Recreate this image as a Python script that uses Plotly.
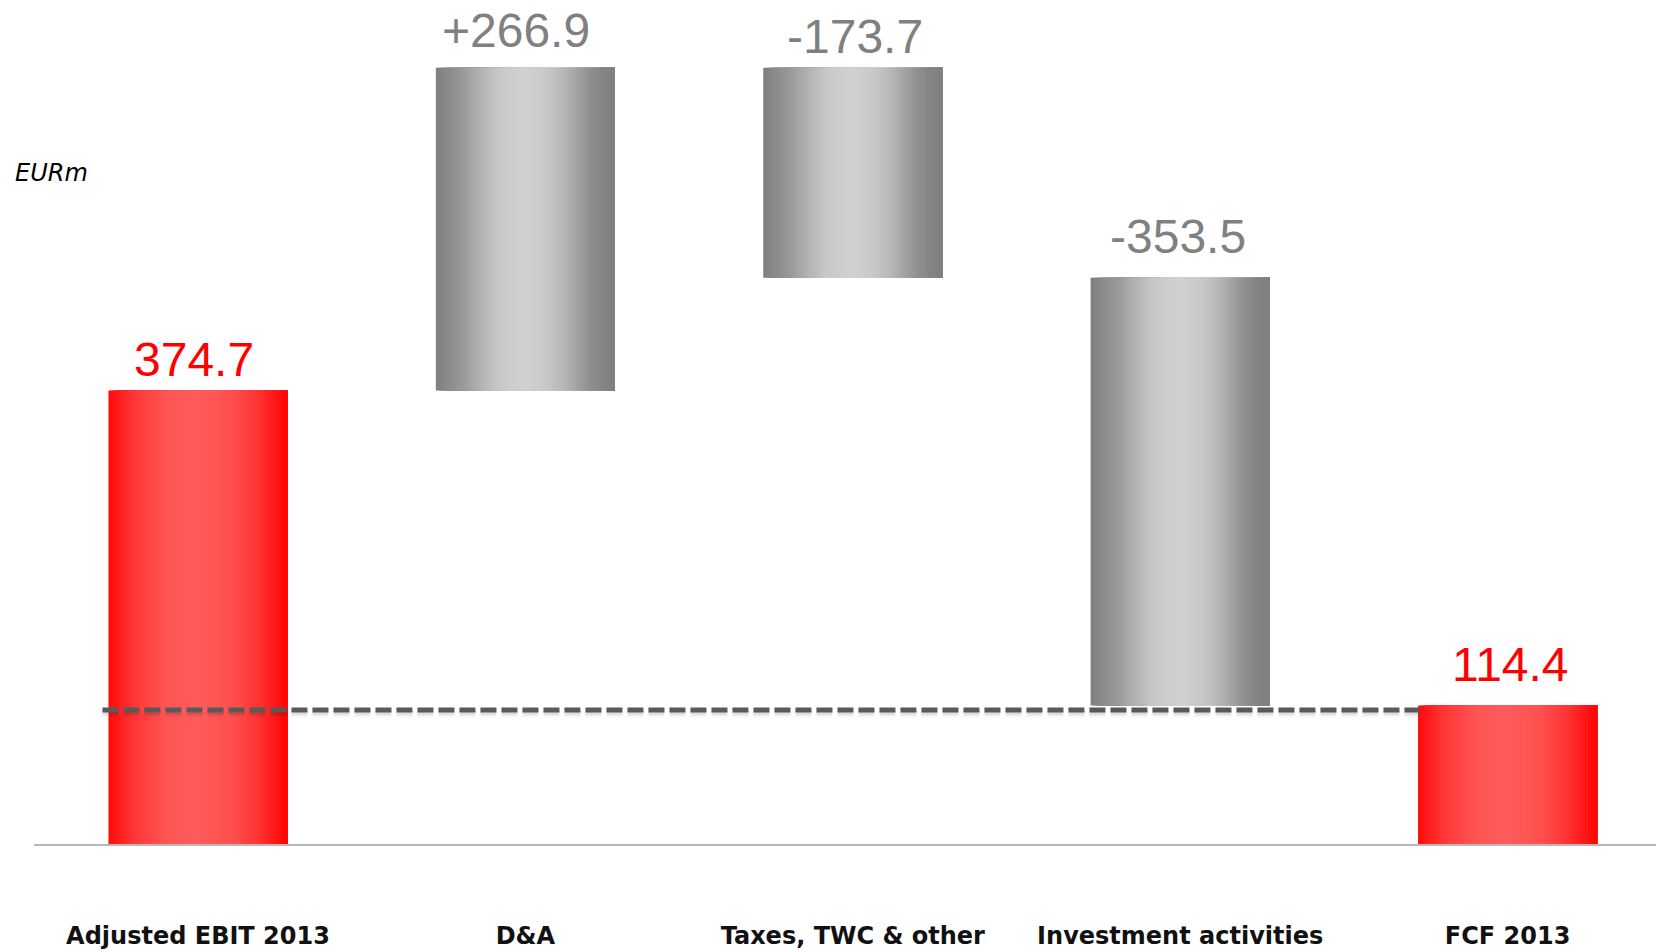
import plotly.graph_objects as go

# ---------------- data ----------------
categories = ["Adjusted EBIT 2013", "D&A", "Taxes, TWC & other", "Investment activities", "FCF 2013"]
values = [374.7, 266.9, -173.7, -353.5, 114.4]
measures = ["total", "relative", "relative", "relative", "total"]
value_labels = ["374.7", "+266.9", "-173.7", "-353.5", "114.4"]
unit_label = "EURm"

# ---------------- style ----------------
W = 0.547                      # bar width (category units)
N_STRIPS = 60
FIG_W, FIG_H = 1656, 952
M_L, M_R, M_T, M_B = 34, 0, 0, 108
X_RANGE = [-0.5009, 4.4533]
Y_RANGE = [0, 697.5]
label_gap_px = [14, 20, 14, 24, 24]
label_xshift_px = [-4, -9, 2, -2, 3]

gray_stops = [(0.0, (0x7f, 0x7f, 0x7f)), (0.15, (0x99, 0x99, 0x99)), (0.24, (0xb0, 0xb0, 0xb0)),
              (0.34, (0xc6, 0xc6, 0xc6)), (0.45, (0xcf, 0xcf, 0xcf)), (0.52, (0xd0, 0xd0, 0xd0)),
              (0.62, (0xc8, 0xc8, 0xc8)), (0.71, (0xb8, 0xb8, 0xb8)), (0.78, (0xa5, 0xa5, 0xa5)),
              (0.86, (0x90, 0x90, 0x90)), (0.93, (0x84, 0x84, 0x84)), (1.0, (0x80, 0x80, 0x80))]
red_stops = [(0.0, (0xff, 0x0a, 0x0a)), (0.14, (0xff, 0x36, 0x36)), (0.33, (0xff, 0x55, 0x55)),
             (0.5, (0xff, 0x5c, 0x5c)), (0.7, (0xff, 0x4e, 0x4e)), (0.85, (0xff, 0x30, 0x30)),
             (1.0, (0xff, 0x02, 0x02))]


def grad(stops, t):
    for (t0, c0), (t1, c1) in zip(stops[:-1], stops[1:]):
        if t0 <= t <= t1:
            f = (t - t0) / (t1 - t0) if t1 > t0 else 0
            c = [round(a + (b - a) * f) for a, b in zip(c0, c1)]
            return "rgb(%d,%d,%d)" % tuple(c)
    return "rgb(%d,%d,%d)" % stops[-1][1]


# ---------------- waterfall geometry from data ----------------
bases, heights, tops = [], [], []
running = 0.0
for v, m in zip(values, measures):
    if m == "total":
        base, h = 0.0, v
        running = v
    else:
        base = running if v >= 0 else running + v
        h = abs(v)
        running += v
    bases.append(base)
    heights.append(h)
    tops.append(base + h)

fig = go.Figure()
for i in range(N_STRIPS):
    t = (i + 0.5) / N_STRIPS
    colors = [grad(red_stops if m == "total" else gray_stops, t) for m in measures]
    fig.add_trace(go.Bar(
        x=categories, y=heights, base=bases,
        width=W * (1 - i / N_STRIPS), offset=-W / 2 + i * W / N_STRIPS,
        marker=dict(color=colors, line=dict(width=0)),
        hoverinfo="skip", showlegend=False,
    ))

# value labels
for cat, top, lab, m, gap, xs in zip(categories, tops, value_labels, measures, label_gap_px, label_xshift_px):
    fig.add_annotation(
        x=cat, y=top, text=lab, showarrow=False, yanchor="bottom", xanchor="center",
        yshift=gap - 11, xshift=xs,
        font=dict(family="Liberation Sans, Arial", size=48,
                  color="#ff0000" if m == "total" else "#808080"),
    )

# dashed reference line at final total
plot_h = FIG_H - M_T - M_B
px_per_unit = plot_h / (Y_RANGE[1] - Y_RANGE[0])
final_total = tops[-1]
y_line = final_total - 4.5 / px_per_unit
x_start = 0 - W / 2 - 6 / 327.4
x_end = (len(categories) - 1) - W / 2
for off_px, width, col in [(8.5, 6, "rgba(0,0,0,0.05)"), (7.5, 4, "rgba(0,0,0,0.07)")]:
    ys = final_total - off_px / px_per_unit
    fig.add_shape(type="line", xref="x", yref="y", x0=x_start, x1=x_end + 0.003, y0=ys, y1=ys,
                  line=dict(color=col, width=width, dash="16px,5px"))
fig.add_shape(type="line", xref="x", yref="y", x0=x_start, x1=x_end + 0.005, y0=y_line, y1=y_line,
              line=dict(color="#595959", width=5, dash="16px,5px"))

# unit label
fig.add_annotation(
    xref="paper", yref="paper", x=(13 - M_L) / (FIG_W - M_L - M_R), y=1 - (173 - M_T) / plot_h,
    xanchor="left", yanchor="middle", text=unit_label, showarrow=False,
    font=dict(family="DejaVu Sans", size=24, color="#000000", style="italic"),
)

fig.update_layout(
    width=FIG_W, height=FIG_H,
    margin=dict(l=M_L, r=M_R, t=M_T, b=M_B, pad=0, autoexpand=False),
    paper_bgcolor="white", plot_bgcolor="white",
    barmode="overlay", showlegend=False,
    xaxis=dict(
        type="category", range=X_RANGE, showgrid=False, zeroline=False, automargin=False,
        showline=True, linecolor="#b8b8b8", linewidth=2, ticks="",
        tickfont=dict(family="DejaVu Sans", size=24, color="#111111", weight="bold"),
        ticklabelstandoff=69,
    ),
    yaxis=dict(range=Y_RANGE, visible=False, showgrid=False, zeroline=False, automargin=False),
)

fig.write_html("out.html")
